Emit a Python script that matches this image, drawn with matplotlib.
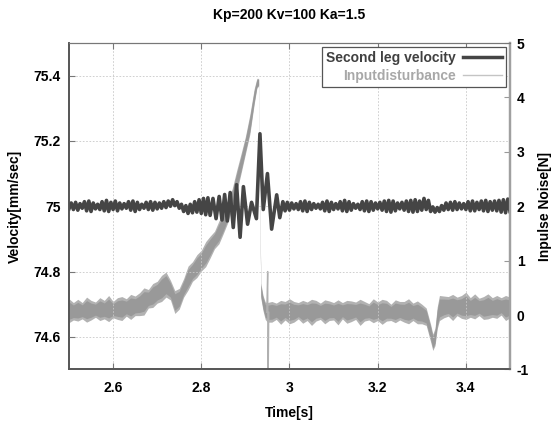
import numpy as np
import matplotlib
matplotlib.use('Agg')
import matplotlib.pyplot as plt
from matplotlib.lines import Line2D

plt.rcParams['font.family'] = ['Liberation Sans', 'DejaVu Sans']
plt.rcParams['font.weight'] = 'bold'
plt.rcParams['axes.unicode_minus'] = False

# --- second leg velocity [mm/sec] (left axis) ---
# calm part 2.500 .. 2.820 s, one value per half oscillation
vel_v1 = [74.992, 75.010, 74.990, 75.012, 74.988, 75.008, 74.994, 75.014, 74.986, 75.016,
          74.984, 75.010, 74.992, 75.006, 74.990, 75.014, 74.986, 75.018, 74.984, 75.012,
          74.990, 75.016, 74.986, 75.010, 74.992, 75.008, 74.994, 75.014, 74.988, 75.016,
          74.984, 75.012, 74.990, 75.006, 74.994, 75.012, 74.990, 75.014, 74.988, 75.012,
          74.992, 75.010, 74.994, 75.014, 74.996, 75.016, 75.000, 75.020, 75.002, 75.014,
          74.994, 75.006, 74.984, 75.002, 74.978, 75.006, 74.980, 75.014, 74.982, 75.020,
          74.978, 75.024, 74.974, 75.026, 74.972]
# burst around the impulse
vel_t2 = [2.8265, 2.8335, 2.8405, 2.8470, 2.8530, 2.8590, 2.8655, 2.8725, 2.8800, 2.8880,
          2.8955, 2.9050, 2.9140, 2.9250, 2.9330, 2.9405, 2.9500, 2.9595, 2.9710, 2.9780]
vel_v2 = [75.024, 74.962, 75.030, 74.958, 75.036, 74.955, 75.042, 74.935, 75.066, 74.905,
          75.060, 74.945, 75.012, 74.962, 75.222, 74.990, 75.100, 74.930, 75.035, 74.965]
# calm part 2.985 .. 3.500 s
vel_v3 = [75.014, 74.986, 75.012, 74.988, 75.010, 74.992, 75.008, 74.990, 75.014, 74.986,
          75.016, 74.984, 75.012, 74.990, 75.008, 74.994, 75.006, 74.992, 75.012, 74.986,
          75.016, 74.984, 75.012, 74.990, 75.008, 74.992, 75.014, 74.986, 75.018, 74.984,
          75.014, 74.988, 75.008, 74.994, 75.006, 74.990, 75.014, 74.986, 75.016, 74.984,
          75.014, 74.988, 75.010, 74.992, 75.012, 74.988, 75.016, 74.984, 75.018, 74.982,
          75.016, 74.986, 75.010, 74.992, 75.012, 74.988, 75.016, 74.984, 75.018, 74.982,
          75.020, 74.984, 75.016, 74.988, 75.024, 74.990, 75.018, 74.984, 74.998, 74.982,
          74.996, 74.984, 75.002, 74.988, 75.010, 74.990, 75.012, 74.988, 75.014, 74.990,
          75.010, 74.992, 75.008, 74.990, 75.014, 74.986, 75.016, 74.986, 75.012, 74.990,
          75.016, 74.986, 75.018, 74.984, 75.014, 74.988, 75.016, 74.986, 75.018, 74.982,
          75.020, 74.980, 75.022, 74.984]

# --- input disturbance [N] (right axis): band centre and half width ---
dist_t = [2.50, 2.51, 2.52, 2.53, 2.54, 2.55, 2.56, 2.57, 2.58, 2.59,
          2.60, 2.61, 2.62, 2.63, 2.64, 2.65, 2.66, 2.67, 2.68, 2.69,
          2.70, 2.71, 2.72, 2.73, 2.74, 2.75, 2.76, 2.77, 2.78, 2.79,
          2.80, 2.81, 2.82, 2.83, 2.84, 2.85, 2.86, 2.87, 2.88, 2.89,
          2.90, 2.91, 2.92, 2.926, 2.930, 2.935, 2.940, 2.945, 2.95, 2.96,
          2.97, 2.98, 2.99, 3.00, 3.01, 3.02, 3.03, 3.04, 3.05, 3.06,
          3.07, 3.08, 3.09, 3.10, 3.11, 3.12, 3.13, 3.14, 3.15, 3.16,
          3.17, 3.18, 3.19, 3.20, 3.21, 3.22, 3.23, 3.24, 3.25, 3.26,
          3.27, 3.28, 3.29, 3.30, 3.31, 3.32, 3.325, 3.33, 3.335, 3.34,
          3.35, 3.36, 3.37, 3.38, 3.39, 3.40, 3.41, 3.42, 3.43, 3.44,
          3.45, 3.46, 3.47, 3.48, 3.49, 3.50]
dist_mid = [0.08, 0.07, 0.09, 0.08, 0.10, 0.09, 0.10, 0.11, 0.10, 0.12,
            0.10, 0.12, 0.12, 0.14, 0.15, 0.17, 0.20, 0.25, 0.30, 0.36,
            0.42, 0.49, 0.56, 0.46, 0.24, 0.30, 0.50, 0.68, 0.80, 0.90,
            1.00, 1.12, 1.25, 1.38, 1.52, 1.68, 1.90, 2.15, 2.45, 2.78,
            3.12, 3.50, 4.02, 4.26, 4.28, 0.45, 0.22, 0.08, 0.05, 0.06,
            0.07, 0.05, 0.08, 0.07, 0.06, 0.08, 0.06, 0.07, 0.05, 0.08,
            0.07, 0.06, 0.08, 0.07, 0.05, 0.08, 0.06, 0.07, 0.08, 0.05,
            0.07, 0.06, 0.08, 0.07, 0.06, 0.08, 0.05, 0.07, 0.08, 0.06,
            0.07, 0.06, 0.05, 0.02, -0.03, -0.33, -0.50, -0.40, -0.05, 0.13,
            0.15, 0.16, 0.14, 0.16, 0.15, 0.17, 0.14, 0.16, 0.15, 0.13,
            0.16, 0.14, 0.15, 0.16, 0.13, 0.14]
dist_spread = [0.22, 0.16, 0.20, 0.15, 0.23, 0.18, 0.14, 0.21, 0.17, 0.24,
               0.15, 0.20, 0.22, 0.16, 0.23, 0.18, 0.21, 0.25, 0.17, 0.22,
               0.20, 0.24, 0.23, 0.18, 0.21, 0.19, 0.17, 0.22, 0.18, 0.21,
               0.19, 0.23, 0.20, 0.16, 0.21, 0.18, 0.20, 0.17, 0.20, 0.18,
               0.16, 0.18, 0.14, 0.09, 0.07, 0.14, 0.14, 0.16, 0.18, 0.19,
               0.15, 0.22, 0.17, 0.23, 0.19, 0.15, 0.21, 0.17, 0.24, 0.19,
               0.15, 0.22, 0.18, 0.16, 0.23, 0.15, 0.21, 0.19, 0.16, 0.24,
               0.18, 0.15, 0.22, 0.17, 0.23, 0.19, 0.15, 0.21, 0.17, 0.19,
               0.23, 0.16, 0.21, 0.18, 0.16, 0.16, 0.15, 0.16, 0.20, 0.23,
               0.20, 0.18, 0.24, 0.17, 0.21, 0.25, 0.18, 0.23, 0.16, 0.21,
               0.23, 0.18, 0.21, 0.16, 0.23, 0.19]
# the single fast spike right after the drop
spike_t = [2.9485, 2.9505, 2.9515, 2.9530]
spike_v = [0.05, 0.80, -1.30, 0.05]

x_ticks = [2.6, 2.8, 3.0, 3.2, 3.4]
x_labels = ['2.6', '2.8', '3', '3.2', '3.4']
vel_ticks = [74.6, 74.8, 75.0, 75.2, 75.4]
vel_labels = ['74.6', '74.8', '75', '75.2', '75.4']
noise_ticks = [-1, 0, 1, 2, 3, 4, 5]

vel_t1 = np.linspace(2.5, 2.82, len(vel_v1))
vel_t3 = np.linspace(2.985, 3.5, len(vel_v3))
vel_t = np.concatenate([vel_t1, vel_t2, vel_t3])
vel_v = np.concatenate([vel_v1, vel_v2, vel_v3])
mid = np.array(dist_mid)
spread = np.array(dist_spread)

fig = plt.figure(figsize=(5.55, 4.23), dpi=100)
ax1 = fig.add_axes([0.1243, 0.1265, 0.7946, 0.7718])
ax2 = ax1.twinx()

# disturbance: light fringe of the noise, core of the trace
ax2.fill_between(dist_t, mid - spread, mid + spread, color='#b2b2b2', lw=0)
ax2.fill_between(dist_t, mid - 0.72 * spread, mid + 0.72 * spread, color='#999999', lw=0)
ax2.plot(spike_t, spike_v, color='#b0b0b0', lw=1.0)
ax2.set_ylim(-1, 5)
ax2.set_yticks(noise_ticks)
ax2.set_ylabel('Inpulse Noise[N]', fontsize=10, fontweight='bold', labelpad=6)

# velocity on top
ax1.set_zorder(ax2.get_zorder() + 1)
ax1.patch.set_visible(False)
ax1.plot(vel_t, vel_v, color='#454545', lw=2.6, solid_joinstyle='round')
ax1.set_xlim(2.5, 3.5)
ax1.set_ylim(74.5, 75.5)
ax1.set_xticks(x_ticks)
ax1.set_xticklabels(x_labels)
ax1.set_yticks(vel_ticks)
ax1.set_yticklabels(vel_labels)
ax1.grid(True, color='#c8c8c8', linestyle=(0, (2, 2)), lw=0.6)
ax1.set_xlabel('Time[s]', fontsize=10, fontweight='bold', labelpad=8)
ax1.set_ylabel('Velocity[mm/sec]', fontsize=10, fontweight='bold', labelpad=8)
ax1.set_title('Kp=200 Kv=100 Ka=1.5', fontsize=10, fontweight='bold', pad=17)

ax1.tick_params(axis='x', direction='in', top=True, length=4, color='#777777',
                labelsize=10, pad=8)
ax1.tick_params(axis='y', direction='in', length=4, color='#777777',
                labelsize=10, pad=6)
ax2.tick_params(axis='y', direction='in', length=4, color='#999999',
                labelsize=10, pad=5)
for t in ax1.get_xticklabels() + ax1.get_yticklabels() + ax2.get_yticklabels():
    t.set_fontweight('bold')

for ax in (ax1, ax2):
    ax.spines['left'].set_color('#555555')
    ax.spines['bottom'].set_color('#555555')
    ax.spines['top'].set_color('#777777')
    ax.spines['right'].set_color('#a0a0a0')
    ax.spines['left'].set_linewidth(1.2)
    ax.spines['bottom'].set_linewidth(1.2)
    ax.spines['right'].set_linewidth(1.6)

handles = [Line2D([], [], color='#454545', lw=2.5),
           Line2D([], [], color='#c4c4c4', lw=1.0)]
leg = ax1.legend(handles, ['Second leg velocity', 'Inputdisturbance'],
                 loc='upper right', markerfirst=False, fancybox=False,
                 framealpha=1, edgecolor='#555555', fontsize=10,
                 handlelength=2.8, labelspacing=0.25, borderpad=0.3,
                 borderaxespad=0.3, handletextpad=0.5)
leg.get_frame().set_linewidth(0.9)
for txt, c in zip(leg.get_texts(), ['#404040', '#a8a8a8']):
    txt.set_color(c)
    txt.set_fontweight('bold')

fig.savefig('out.png', dpi=100)
